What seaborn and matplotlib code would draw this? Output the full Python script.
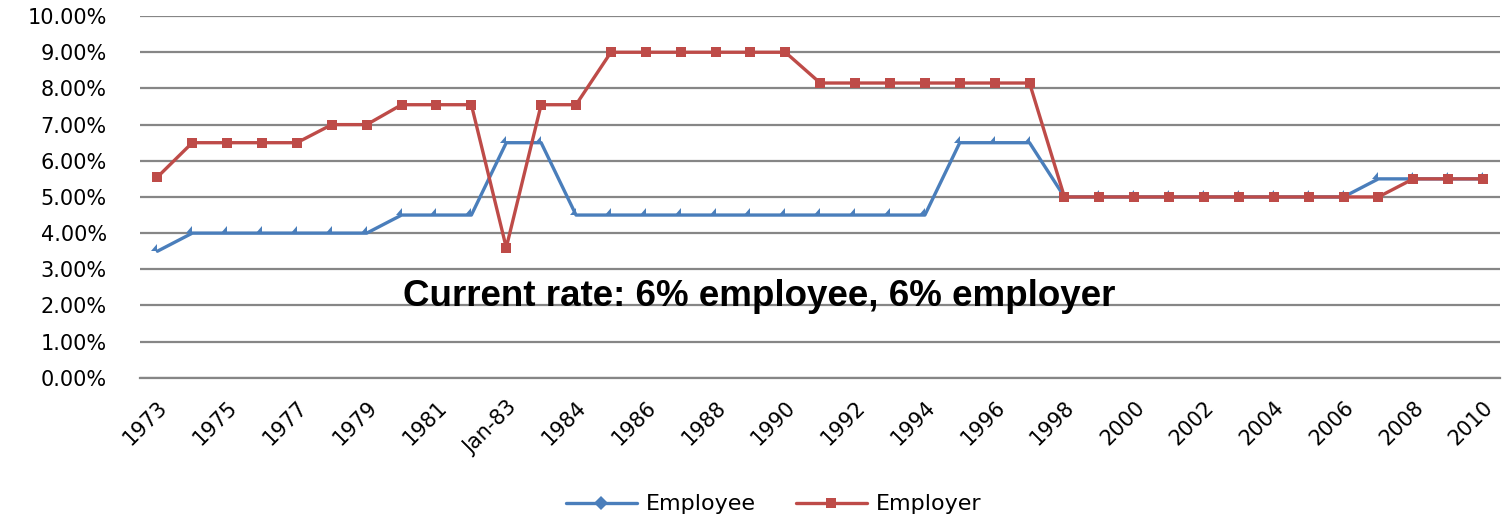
import matplotlib
matplotlib.use("Agg")
import matplotlib.pyplot as plt
import matplotlib.transforms as mtransforms
import seaborn as sns
import numpy as np
import pandas as pd
from matplotlib.path import Path
from matplotlib.lines import Line2D

categories = ["1973", "1974", "1975", "1976", "1977", "1978", "1979", "1980", "1981", "1982",
              "Jan-83", "1983", "1984", "1985", "1986", "1987", "1988", "1989", "1990", "1991",
              "1992", "1993", "1994", "1995", "1996", "1997", "1998", "1999", "2000", "2001",
              "2002", "2003", "2004", "2005", "2006", "2007", "2008", "2009", "2010"]
employee = [3.5, 4.0, 4.0, 4.0, 4.0, 4.0, 4.0, 4.5, 4.5, 4.5,
            6.5, 6.5, 4.5, 4.5, 4.5, 4.5, 4.5, 4.5, 4.5, 4.5,
            4.5, 4.5, 4.5, 6.5, 6.5, 6.5, 5.0, 5.0, 5.0, 5.0,
            5.0, 5.0, 5.0, 5.0, 5.0, 5.5, 5.5, 5.5, 5.5]
employer = [5.55, 6.5, 6.5, 6.5, 6.5, 7.0, 7.0, 7.55, 7.55, 7.55,
            3.6, 7.55, 7.55, 9.0, 9.0, 9.0, 9.0, 9.0, 9.0, 8.15,
            8.15, 8.15, 8.15, 8.15, 8.15, 8.15, 5.0, 5.0, 5.0, 5.0,
            5.0, 5.0, 5.0, 5.0, 5.0, 5.0, 5.5, 5.5, 5.5]
y_ticks = [0, 1, 2, 3, 4, 5, 6, 7, 8, 9, 10]
annotation = "Current rate: 6% employee, 6% employer"

blue = "#4A7EBB"
red = "#BE4B48"

sns.set_theme(style="white")
plt.rcParams['font.family'] = ['DejaVu Sans']
plt.rcParams['text.color'] = 'black'
plt.rcParams['xtick.color'] = 'black'
plt.rcParams['ytick.color'] = 'black'

fig = plt.figure(figsize=(15.05, 5.19), dpi=100)
ax = fig.add_axes([0.093, 0.272, 0.904, 0.697])

idx = np.arange(len(categories))
df = pd.DataFrame({"x": idx, "Employee": employee, "Employer": employer})

wedge = Path([(-1, 0), (0, 0), (0, 1.2), (-1, 0)], [Path.MOVETO, Path.LINETO, Path.LINETO, Path.CLOSEPOLY])

sns.lineplot(data=df, x="x", y="Employee", ax=ax, color=blue, linewidth=2.4,
             marker=wedge, markersize=10, markeredgewidth=0, markerfacecolor=blue, zorder=3)
sns.lineplot(data=df, x="x", y="Employer", ax=ax, color=red, linewidth=2.4,
             marker="s", markersize=7, markeredgewidth=0, markerfacecolor=red, zorder=4)

ax.set_xlim(-0.5, len(categories) - 0.5)
ax.set_ylim(0, 10)
ax.set_yticks(y_ticks)
ax.set_yticklabels([f"{v:.2f}%" for v in y_ticks], fontsize=15, color="black")
ax.set_xticks(idx[::2])
ax.set_xticklabels(categories[::2], rotation=45, ha="right", rotation_mode="anchor",
                   fontsize=15, color="black")
offset = mtransforms.ScaledTranslation(-6 / 100, 0, fig.dpi_scale_trans)
for lbl in ax.get_xticklabels():
    lbl.set_transform(lbl.get_transform() + offset)
ax.tick_params(axis="x", pad=14, length=0)
ax.tick_params(axis="y", pad=24, length=0)
ax.grid(axis="y", color="#868686", linewidth=1.6)
ax.set_axisbelow(True)
for s in ["top", "right", "left"]:
    ax.spines[s].set_visible(False)
ax.spines["bottom"].set_color("#868686")
ax.spines["bottom"].set_linewidth(1.6)
ax.set_xlabel("")
ax.set_ylabel("")

ax.text(0.455, 0.225, annotation, transform=ax.transAxes, ha="center", va="center",
        fontsize=26.5, fontweight="bold", color="black", family=["Liberation Sans", "DejaVu Sans"])

handles = [Line2D([0], [0], color=blue, lw=2.4, marker="D", markersize=7, markeredgewidth=0),
           Line2D([0], [0], color=red, lw=2.4, marker="s", markersize=7, markeredgewidth=0)]
leg = fig.legend(handles, ["Employee", "Employer"], loc="center", bbox_to_anchor=(0.514, 0.028),
                 ncol=2, frameon=False, fontsize=16, handlelength=3.2, handletextpad=0.4,
                 columnspacing=1.8)
for t in leg.get_texts():
    t.set_color("black")
if ax.get_legend():
    ax.get_legend().remove()

fig.savefig("out.png", dpi=100)
